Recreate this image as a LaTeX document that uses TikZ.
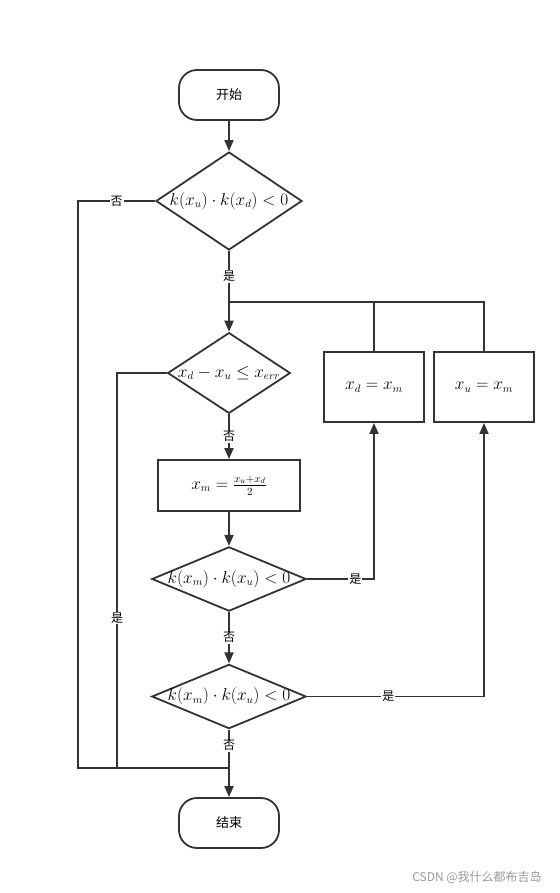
\documentclass[tikz,border=0pt]{standalone}
\usepackage{amsmath}
\usepackage{amssymb}
\usepackage{xcolor}
\usepackage{fontspec}
\newfontfamily\cjk{Noto Sans CJK SC}
\usetikzlibrary{shapes.geometric,arrows.meta}
\definecolor{linegray}{HTML}{333333}
\definecolor{markgray}{HTML}{999999}
\newlength{\lw}
\setlength{\lw}{1.8pt}

\begin{document}
\begin{tikzpicture}[x=1pt,y=-1pt,line width=\lw,draw=linegray,
    term/.style={draw,fill=white,rounded corners=18pt,minimum width=100pt,minimum height=50pt,font=\cjk\fontsize{13}{15}\selectfont},
    cond/.style={draw,fill=white,diamond,inner sep=0pt,font=\fontsize{16}{18}\selectfont},
    proc/.style={draw,fill=white,rectangle,inner sep=0pt,font=\fontsize{16}{18}\selectfont},
    lbl/.style={fill=white,inner sep=1pt,font=\cjk\fontsize{12}{14}\selectfont},
    arr/.style={-{Triangle[length=11pt,width=9pt]}}]
            \useasboundingbox (0,0) rectangle (559,893);
            \node[term] (start) at (229,95) {开始};
            \node[cond,aspect=1.49,minimum width=146pt,minimum height=98pt] (c1) at (229,201) {$k(x_u)\cdot k(x_d)<0$};
            \node[cond,aspect=1.52,minimum width=122pt,minimum height=80pt] (c2) at (229,373) {$x_d-x_u\le x_{err}$};
            \node[proc,minimum width=142pt,minimum height=51pt] (mid) at (229,485.5) {$x_m=\frac{x_u+x_d}{2}$};
            \node[cond,aspect=2.4,inner ysep=-2pt,minimum width=154pt,minimum height=64pt] (c3) at (229,579) {$k(x_m)\cdot k(x_u)<0$};
            \node[cond,aspect=2.4,inner ysep=-2pt,minimum width=154pt,minimum height=64pt] (c4) at (229,696.5) {$k(x_m)\cdot k(x_u)<0$};
            \node[term] (stop) at (229,823) {结束};
            \node[proc,minimum width=100pt,minimum height=70pt] (xd) at (374,387) {$x_d=x_m$};
            \node[proc,minimum width=100pt,minimum height=70pt] (xu) at (484,387) {$x_u=x_m$};
            \coordinate (top) at (229,302);
            \coordinate (bot) at (229,768);
            \coordinate (left1) at (78,768);
            \coordinate (left2) at (117,768);
            % main column
            \draw[arr] (start) -- (c1);
            \draw (c1) -- node[lbl]{是} (top);
            \draw[arr] (top) -- (c2);
            \draw[arr] (c2) -- node[lbl]{否} (mid);
            \draw[arr] (mid) -- (c3);
            \draw[arr] (c3) -- node[lbl]{否} (c4);
            \draw[arr] (c4) -- node[lbl,pos=0.24]{否} (stop);
            % loop back
            \draw (xd.north) |- (top);
            \draw (xu.north) |- (top);
            \draw[arr] (c3.east) -| node[lbl,pos=0.36]{是} (xd.south);
            \draw[arr] (c4.east) -| node[lbl,pos=0.23]{是} (xu.south);
            % exits to the end
            \draw (c1.west) -| node[lbl,pos=0.25]{否} (left1) -- (bot);
            \draw (c2.west) -| node[lbl,pos=0.81]{是} (left2);
            \node[text=markgray,font=\cjk\fontsize{12}{14}\selectfont] (mark) at (477,877) {CSDN @我什么都布吉岛};
\end{tikzpicture}
\end{document}
